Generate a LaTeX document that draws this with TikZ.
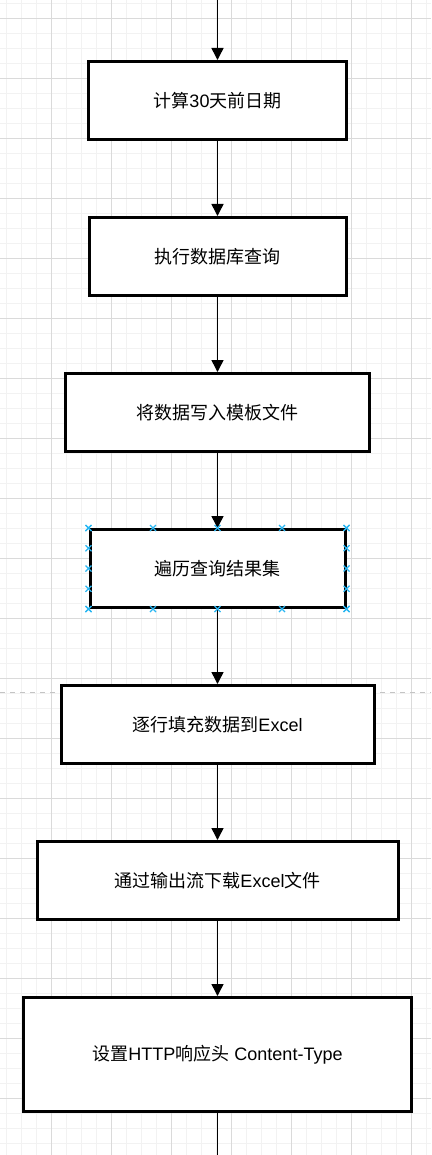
\documentclass[tikz,border=0pt]{standalone}
\usepackage{fontspec}
\setmainfont{Liberation Sans}
\newfontfamily\cjk{Noto Sans CJK SC}
\usetikzlibrary{arrows.meta,positioning,calc}
\definecolor{gridminor}{HTML}{F2F2F2}
\definecolor{gridmajor}{HTML}{DADADA}
\definecolor{guide}{HTML}{C4C4C4}
\definecolor{handle}{HTML}{29B6F2}

\begin{document}
\begin{tikzpicture}[x=1pt,y=-1pt,>={Triangle[length=12pt,width=12pt]},node distance=75pt]
  \tikzstyle{stepbox}=[draw,line width=3pt,fill=white,minimum height=78pt,font=\fontsize{18}{22}\selectfont]
  \tikzstyle{flow}=[->,line width=1.5pt]
  \tikzstyle{handlemark}=[handle,line width=1.2pt]
  \useasboundingbox (0,0) rectangle (431,1155);
  % background grid
  \foreach \x in {6.7,21.7,...,431} \draw[gridminor,line width=1pt] (\x,0) -- (\x,1155);
  \foreach \y in {3.3,18.3,...,1155} \draw[gridminor,line width=1pt] (0,\y) -- (431,\y);
  \foreach \x in {51.7,111.7,...,431} \draw[gridmajor,line width=1pt] (\x,0) -- (\x,1155);
  \foreach \y in {18.3,78.3,...,1155} \draw[gridmajor,line width=1pt] (0,\y) -- (431,\y);
  \draw[guide,line width=1pt,dash pattern=on 5pt off 5pt] (0,692.5) -- (431,692.5);

  \node[stepbox,minimum width=258pt] (calc) at (217.5,100.5) {{\cjk 计算}30{\cjk 天前日期}};
  \node[stepbox,minimum width=257pt,below=of calc] (query) {\cjk 执行数据库查询};
  \node[stepbox,minimum width=304pt,below=of query] (write) {\cjk 将数据写入模板文件};
  \node[stepbox,minimum width=255pt,below=of write] (loop) {\cjk 遍历查询结果集};
  \node[stepbox,minimum width=313pt,below=of loop] (fill) {{\cjk 逐行填充数据到}Excel};
  \node[stepbox,minimum width=361pt,below=of fill] (download) {{\cjk 通过输出流下载}Excel{\cjk 文件}};
  \node[stepbox,minimum width=388pt,minimum height=114pt,below=of download] (header) {{\cjk 设置}HTTP{\cjk 响应头} Content-Type};
  \coordinate (entry) at (217.5,0);
  \coordinate (exit) at (217.5,1155);

  \draw[flow] (entry) -- (calc);
  \draw[flow] (calc) -- (query);
  \draw[flow] (query) -- (write);
  \draw[flow] (write) -- (loop);
  \draw[flow] (loop) -- (fill);
  \draw[flow] (fill) -- (download);
  \draw[flow] (download) -- (header);
  \draw[line width=1.5pt] (header) -- (exit);

  % selection handles
  \foreach \f in {0,0.25,0.5,0.75,1}
    \foreach \a/\b in {north west/north east,south west/south east,north west/south west,north east/south east}
      \draw[handlemark] ($(loop.\a)!\f!(loop.\b)$) +(-3,-3) -- +(3,3) +(-3,3) -- +(3,-3);
\end{tikzpicture}
\end{document}
